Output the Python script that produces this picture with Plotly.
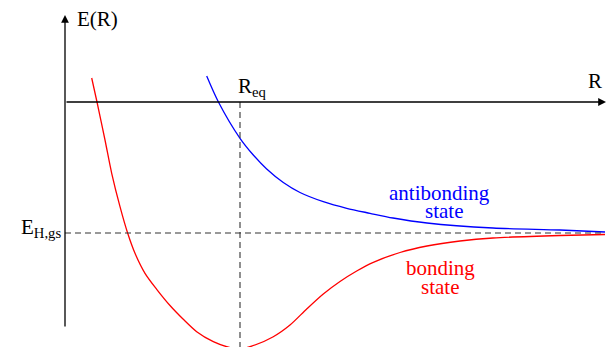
import plotly.graph_objects as go

# Bonding (red) and antibonding (blue) potential curves, E(R) vs R (arbitrary units)
r_bonding = [0.267, 0.32, 0.40, 0.467, 0.55, 0.627, 0.70, 0.80, 0.917, 1.05, 1.18, 1.317,
             1.483, 1.617, 1.73, 1.85, 2.083, 2.25, 2.417, 2.583, 2.75, 2.917, 3.083,
             3.35, 3.62, 3.95, 4.28, 4.95, 5.40]
e_bonding = [0.24, 0.0, -0.38, -0.713, -1.047, -1.313, -1.513, -1.713, -1.873, -2.035,
             -2.17, -2.297, -2.397, -2.447, -2.47, -2.447, -2.347, -2.23, -2.07, -1.92,
             -1.795, -1.69, -1.603, -1.505, -1.44, -1.39, -1.36, -1.335, -1.325]

r_antibonding = [1.417, 1.533, 1.75, 1.883, 2.017, 2.183, 2.35, 2.583, 2.817, 3.05,
                 3.28, 3.62, 4.28, 4.95, 5.40]
e_antibonding = [0.26, 0.003, -0.363, -0.53, -0.67, -0.805, -0.905, -0.997, -1.063,
                 -1.113, -1.16, -1.21, -1.26, -1.28, -1.30]

e_h_gs = -1.31   # hydrogen ground-state energy level
r_eq = 1.75      # equilibrium separation

R_MAX = 5.41
E_TOP = 0.87
E_BOTTOM = -2.26

SERIF = "Liberation Serif"

fig = go.Figure()

fig.add_trace(go.Scatter(x=r_bonding, y=e_bonding, mode="lines",
                         line=dict(color="#ff0000", width=1.3, shape="spline", smoothing=0.8),
                         hoverinfo="skip"))
fig.add_trace(go.Scatter(x=r_antibonding, y=e_antibonding, mode="lines",
                         line=dict(color="#0000ff", width=1.3, shape="spline", smoothing=0.8),
                         hoverinfo="skip"))

# dashed guide lines
fig.add_trace(go.Scatter(x=[0, R_MAX - 0.02], y=[e_h_gs, e_h_gs], mode="lines",
                         line=dict(color="#333333", width=1.1, dash="6px,4px"), hoverinfo="skip"))
fig.add_trace(go.Scatter(x=[r_eq, r_eq], y=[0, -2.6], mode="lines",
                         line=dict(color="#333333", width=1.1, dash="6px,4px"), hoverinfo="skip"))

# axes drawn as arrows
fig.add_annotation(x=0, y=E_TOP, ax=0, ay=E_BOTTOM, xref="x", yref="y", axref="x", ayref="y",
                   showarrow=True, arrowhead=2, arrowsize=1.2, arrowwidth=1.3, arrowcolor="black",
                   text="")
fig.add_annotation(x=R_MAX, y=0, ax=0, ay=0, xref="x", yref="y", axref="x", ayref="y",
                   showarrow=True, arrowhead=2, arrowsize=1.2, arrowwidth=1.3, arrowcolor="black",
                   text="")

labels = [
    dict(x=0.10, y=0.83, text="E(R)", color="black", xanchor="left"),
    dict(x=1.71, y=0.15, text="R<sub>eq</sub>", color="black", xanchor="left"),
    dict(x=5.30, y=0.21, text="R", color="black", xanchor="center"),
    dict(x=-0.02, y=-1.26, text="E<sub>H,gs</sub>", color="black", xanchor="right"),
    dict(x=3.74, y=-0.905, text="antibonding", color="#0000ff", xanchor="center"),
    dict(x=3.79, y=-1.085, text="state", color="#0000ff", xanchor="center"),
    dict(x=3.75, y=-1.655, text="bonding", color="#ff0000", xanchor="center"),
    dict(x=3.75, y=-1.845, text="state", color="#ff0000", xanchor="center"),
]
for lb in labels:
    fig.add_annotation(x=lb["x"], y=lb["y"], xref="x", yref="y", text=lb["text"],
                       showarrow=False, xanchor=lb["xanchor"], yanchor="middle",
                       font=dict(family=SERIF, size=21, color=lb["color"]))

fig.update_xaxes(range=[-0.65, 5.42], visible=False, fixedrange=True)
fig.update_yaxes(range=[-2.45, 1.02], visible=False, fixedrange=True)
fig.update_layout(width=607, height=347, margin=dict(l=0, r=0, t=0, b=0),
                  paper_bgcolor="white", plot_bgcolor="white", showlegend=False)

fig.write_html("out.html")
